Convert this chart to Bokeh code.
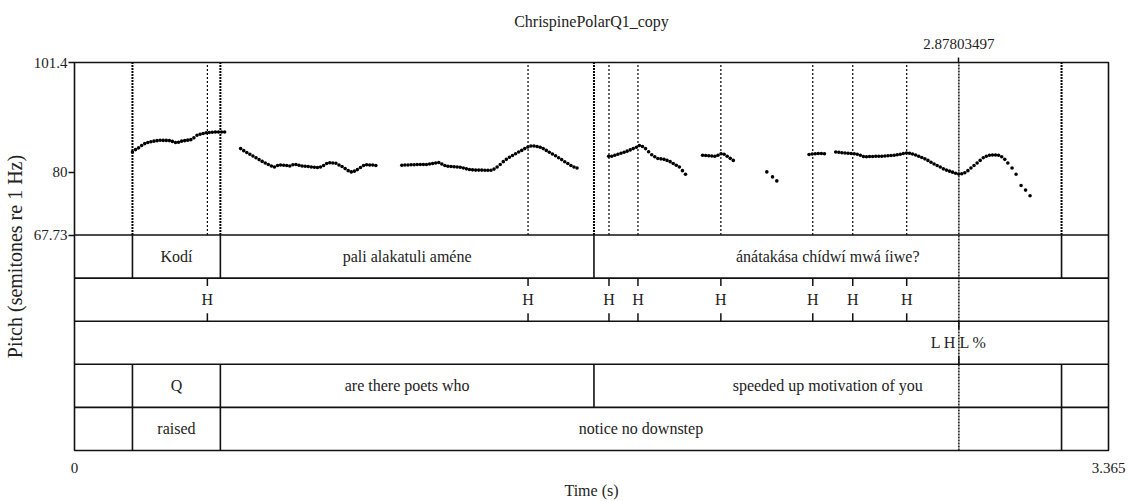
import numpy as np
from bokeh.plotting import figure
from bokeh.models import Range1d, LinearAxis, FixedTicker, ColumnDataSource
from bokeh.core.properties import value
from bokeh.embed import file_html
from bokeh.resources import INLINE

# ---------------- data ----------------
title_text = "ChrispinePolarQ1_copy"
x_label = "Time (s)"
y_label = "Pitch (semitones re 1 Hz)"
t_min, t_max = 0.0, 3.365
pitch_min, pitch_max = 67.73, 101.4
pitch_ticks = [67.73, 80.0, 101.4]
pitch_tick_labels = ["67.73", "80", "101.4"]
x_ticks = [0.0, 3.365]
x_tick_labels = ["0", "3.365"]
cursor_time = 2.87803497
cursor_label = "2.87803497"

frame_step = 0.01  # pitch analysis time step (s)

pitch_seg1_t0 = 0.1886
pitch_seg1 = [83.94, 84.4, 84.75, 85.2, 85.58, 85.8, 85.95, 86.05, 86.15, 86.22,
              86.2, 86.2, 86.16, 86.0, 85.8, 85.85, 86.05, 86.15, 86.25, 86.35,
              86.7, 87.2, 87.4, 87.55, 87.7, 87.75, 87.8, 87.83, 87.85, 87.83, 87.83]
pitch_seg2_t0 = 0.5407
pitch_seg2 = [84.6, 84.2, 83.85, 83.5, 83.15, 82.8, 82.45, 82.1, 81.8, 81.5,
              81.2, 81.0, 81.3, 81.4, 81.35, 81.3, 81.2, 81.45, 81.5, 81.35,
              81.2, 81.15, 81.1, 81.0, 80.95, 80.9, 81.0, 81.3, 81.7, 81.85,
              81.8, 81.75, 81.4, 81.1, 80.7, 80.3, 80.05, 80.2, 80.5, 80.9,
              81.3, 81.45, 81.4, 81.4, 81.3]
pitch_seg3_t0 = 1.0654
pitch_seg3 = [81.35, 81.4, 81.4, 81.45, 81.45, 81.5, 81.5, 81.5, 81.5, 81.6,
              81.7, 81.8, 81.88, 81.6, 81.3, 81.15, 81.1, 81.05, 81.02, 80.95,
              80.8, 80.65, 80.52, 80.45, 80.4, 80.4, 80.4, 80.38, 80.38, 80.38,
              80.6, 81.0, 81.5, 82.05, 82.5, 82.9, 83.25, 83.6, 83.95, 84.25,
              84.6, 84.9, 85.1, 85.1, 85.0, 84.85, 84.6, 84.25, 83.9, 83.55,
              83.2, 82.8, 82.45, 82.05, 81.7, 81.3, 81.0, 80.8]
pitch_seg4_t0 = 1.7384
pitch_seg4 = [83.1, 83.1, 83.3, 83.5, 83.7, 83.9, 84.1, 84.35, 84.6, 84.85,
              85.2, 85.0, 84.6, 84.0, 83.4, 83.0, 82.66, 82.6, 82.5, 82.3,
              82.05, 81.7, 81.35, 81.0, 80.3, 79.6]
pitch_seg5_t0 = 2.0440
pitch_seg5 = [83.3, 83.25, 83.2, 83.15, 83.1, 83.3, 83.6, 83.5, 83.1, 82.7, 82.3]
pitch_seg7_t0 = 2.3906
pitch_seg7 = [83.45, 83.55, 83.6, 83.63, 83.63, 83.6]
pitch_seg8_t0 = 2.4774
pitch_seg8 = [83.95, 83.9, 83.8, 83.75, 83.7, 83.65, 83.6, 83.5, 83.3, 83.05,
              83.0, 83.05, 83.05, 83.1, 83.1, 83.1, 83.15, 83.2, 83.25, 83.3,
              83.4, 83.5, 83.65, 83.75, 83.7, 83.55, 83.35, 83.1, 82.85, 82.6,
              82.3, 81.95, 81.6, 81.3, 81.0, 80.65, 80.4, 80.2, 80.0, 79.8,
              79.65, 79.7, 79.9, 80.3, 80.8, 81.3, 81.8, 82.3, 82.8, 83.1,
              83.3, 83.35, 83.35, 83.3, 83.0, 82.5, 81.8]
# sparse (isolated) pitch frames
pitch_sparse_t = [2.2531, 2.2716, 2.2856, 3.0512, 3.0642, 3.0805, 3.0951, 3.1097]
pitch_sparse = [80.05, 79.08, 78.30, 80.8, 79.6, 77.4, 76.5, 75.4]

# TextGrid tiers
words_bounds = [0.1886, 0.4747, 1.6905, 3.2122]
words_labels = ["", "Kodí", "pali alakatuli améne", "ánátakása chídwí mwá íiwe?", ""]
tones_times = [0.4324, 1.4760, 1.7394, 1.8337, 2.1035, 2.4026, 2.5327, 2.7083]
tones_labels = ["H", "H", "H", "H", "H", "H", "H", "H"]
boundary_times = [2.87803497]
boundary_labels = ["L H L %"]
gloss_bounds = [0.1886, 0.4747, 1.6905, 3.2122]
gloss_labels = ["", "Q", "are there poets who", "speeded up motivation of you", ""]
notes_bounds = [0.1886, 0.4747, 3.2122]
notes_labels = ["", "raised", "notice no downstep", ""]

tiers = [
    ("interval", words_bounds, words_labels),
    ("point", tones_times, tones_labels),
    ("point", boundary_times, boundary_labels),
    ("interval", gloss_bounds, gloss_labels),
    ("interval", notes_bounds, notes_labels),
]

# ---------------- layout ----------------
FONT = "Liberation Serif"
INK = "#111111"
TXT = "#222222"
W, H = 1128, 501
BL, BR, BT, BB = 73, 20, 62, 50
frame_w = W - BL - BR
frame_h = H - BT - BB
pitch_h = 173.0
n_tiers = len(tiers)
tier_px = (frame_h - pitch_h) / n_tiers

y_start = pitch_min - (pitch_max - pitch_min) * (frame_h - pitch_h) / pitch_h
tiers_end = frame_h / tier_px

p = figure(width=W, height=H, output_backend="svg", toolbar_location=None,
           x_range=Range1d(t_min, t_max), y_range=Range1d(y_start, pitch_max),
           x_axis_type=None, y_axis_type=None,
           min_border_left=BL, min_border_right=BR,
           min_border_top=BT, min_border_bottom=BB)
p.extra_y_ranges = {"tiers": Range1d(0, tiers_end)}
p.outline_line_color = INK
p.outline_line_width = 1.6
p.background_fill_color = "white"
p.border_fill_color = "white"

p.title.text = title_text
p.title.align = "center"
p.title.text_font = FONT
p.title.text_font_size = "16px"
p.title.text_font_style = "normal"
p.title.text_color = TXT
p.title.standoff = 12

# axes
yax = LinearAxis(ticker=FixedTicker(ticks=pitch_ticks, minor_ticks=[]),
                 major_label_overrides=dict(zip(pitch_ticks, pitch_tick_labels)),
                 axis_label=y_label)
xax = LinearAxis(ticker=FixedTicker(ticks=x_ticks, minor_ticks=[]),
                 major_label_overrides=dict(zip(x_ticks, x_tick_labels)),
                 axis_label=x_label)
tax = LinearAxis(ticker=FixedTicker(ticks=[cursor_time], minor_ticks=[]),
                 major_label_overrides={cursor_time: cursor_label})
for ax in (yax, xax, tax):
    ax.axis_line_color = None
    ax.minor_tick_line_color = None
    ax.major_tick_in = 0
    ax.major_tick_line_color = INK
    ax.major_tick_line_width = 1.5
    ax.major_label_text_font = FONT
    ax.major_label_text_color = TXT
    ax.major_label_text_font_size = "15px"
    ax.axis_label_text_font = FONT
    ax.axis_label_text_font_style = "normal"
    ax.axis_label_text_color = TXT
yax.major_tick_out = 6
yax.major_label_standoff = 1
yax.axis_label_text_font_size = "20px"
yax.axis_label_standoff = 5
xax.major_tick_out = 0
xax.major_label_standoff = 12
xax.axis_label_text_font_size = "16px"
xax.axis_label_standoff = 6
tax.major_tick_out = 5
tax.major_label_standoff = 9
p.add_layout(yax, "left")
p.add_layout(xax, "below")
p.add_layout(tax, "above")

# dotted lines in pitch area for all tier boundaries / points
int_b = sorted(set(words_bounds) | set(gloss_bounds) | set(notes_bounds))
pt_b = sorted(set(tones_times))
p.segment(x0=int_b, y0=[pitch_min] * len(int_b), x1=int_b, y1=[pitch_max] * len(int_b),
          line_color="black", line_width=2.0, line_dash="2 1")
p.segment(x0=pt_b, y0=[pitch_min] * len(pt_b), x1=pt_b, y1=[pitch_max] * len(pt_b),
          line_color="black", line_width=1.2, line_dash="2 2")

# tier separators
seps = list(range(1, n_tiers + 1))
p.segment(x0=[t_min] * len(seps), y0=seps, x1=[t_max] * len(seps), y1=seps,
          y_range_name="tiers", line_color=INK, line_width=1.6)

tick_len = 8.0 / tier_px
tx, ty, tt = [], [], []
for k, (kind, marks, labels) in enumerate(tiers):
    top = n_tiers - k
    bot = top - 1
    mid = top - 0.5
    if kind == "interval":
        p.segment(x0=marks, y0=[bot] * len(marks), x1=marks, y1=[top] * len(marks),
                  y_range_name="tiers", line_color=INK, line_width=1.6)
        edges = [t_min] + list(marks) + [t_max]
        for i, lab in enumerate(labels):
            if lab:
                tx.append((edges[i] + edges[i + 1]) / 2)
                ty.append(mid)
                tt.append(lab)
    else:
        n = len(marks)
        p.segment(x0=marks, y0=[top] * n, x1=marks, y1=[top - tick_len] * n,
                  y_range_name="tiers", line_color=INK, line_width=1.5)
        p.segment(x0=marks, y0=[bot] * n, x1=marks, y1=[bot + tick_len] * n,
                  y_range_name="tiers", line_color=INK, line_width=1.5)
        for m, lab in zip(marks, labels):
            tx.append(m)
            ty.append(mid)
            tt.append(lab)

p.text(x="x", y="y", text="text", source=ColumnDataSource(dict(x=tx, y=ty, text=tt)),
       y_range_name="tiers", text_font=value(FONT), text_font_size="16px",
       text_align="center", text_baseline="middle", text_color=TXT)

# cursor line
p.segment(x0=[cursor_time], y0=[0], x1=[cursor_time], y1=[tiers_end],
          y_range_name="tiers", line_color=INK, line_width=1.5, line_dash="2 1")

# pitch points
segs = [(pitch_seg1_t0, pitch_seg1), (pitch_seg2_t0, pitch_seg2),
        (pitch_seg3_t0, pitch_seg3), (pitch_seg4_t0, pitch_seg4),
        (pitch_seg5_t0, pitch_seg5), (pitch_seg7_t0, pitch_seg7),
        (pitch_seg8_t0, pitch_seg8)]
pt_t, pt_v = [], []
for t0, vals in segs:
    pt_t.extend(t0 + frame_step * np.arange(len(vals)))
    pt_v.extend(vals)
pt_t.extend(pitch_sparse_t)
pt_v.extend(pitch_sparse)
p.scatter(x=pt_t, y=pt_v, size=3.6, marker="circle", fill_color="black", line_color=None)

open("out.html", "w").write(file_html(p, INLINE))
